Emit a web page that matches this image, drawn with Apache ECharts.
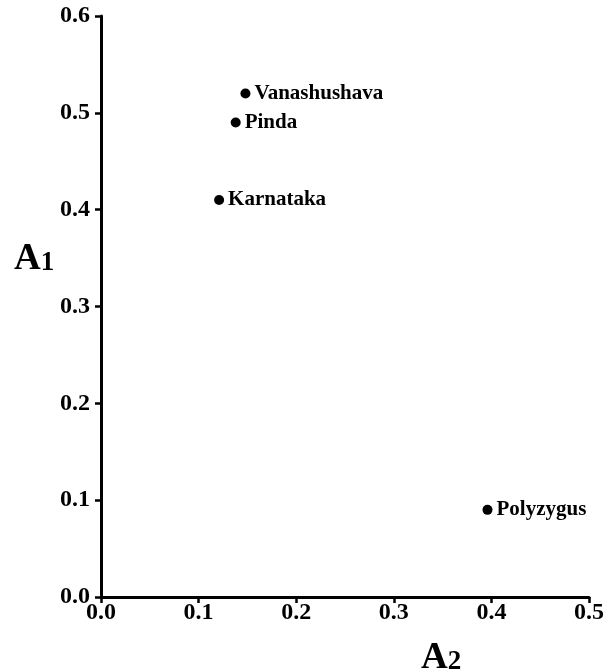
<!DOCTYPE html>
<html><head><meta charset="utf-8">
<script src="https://cdn.jsdelivr.net/npm/echarts@6/dist/echarts.min.js"></script>
<style>html,body{margin:0;padding:0;background:#fff}#c{width:609px;height:672px}</style>
</head><body><div id="c"></div>
<script>
const names = ['Vanashushava', 'Pinda', 'Karnataka', 'Polyzygus'];
const a2Values = [0.148, 0.138, 0.121, 0.396];
const a1Values = [0.520, 0.490, 0.410, 0.090];
const xTicks = [0.0, 0.1, 0.2, 0.3, 0.4, 0.5];
const yTicks = [0.0, 0.1, 0.2, 0.3, 0.4, 0.5, 0.6];

const font = '"Liberation Serif","Times New Roman",serif';
const chart = echarts.init(document.getElementById('c'));
chart.setOption({
  backgroundColor: '#fff',
  animation: false,
  grid: {left: 101, right: 20, top: 16, bottom: 75},
  xAxis: {
    type: 'value', min: xTicks[0], max: xTicks[xTicks.length - 1], interval: 0.1,
    splitLine: {show: false},
    axisLine: {show: true, lineStyle: {color: '#000', width: 3}},
    axisTick: {show: true, length: 6, lineStyle: {color: '#000', width: 2.5}},
    axisLabel: {color: '#000', fontFamily: font, fontWeight: 'bold', fontSize: 24, margin: 4,
      formatter: v => v.toFixed(1)}
  },
  yAxis: {
    type: 'value', min: yTicks[0], max: yTicks[yTicks.length - 1], interval: 0.1,
    splitLine: {show: false},
    axisLine: {show: true, lineStyle: {color: '#000', width: 3}},
    axisTick: {show: true, length: 6, lineStyle: {color: '#000', width: 2.5}},
    axisLabel: {color: '#000', fontFamily: font, fontWeight: 'bold', fontSize: 24, margin: 11,
      formatter: v => v.toFixed(1)}
  },
  graphic: [
    {type: 'text', left: 14, top: 241, style: {text: '{a|A}{n|1}', rich: {
      a: {fontFamily: font, fontWeight: 'bold', fontSize: 37, fill: '#000'},
      n: {fontFamily: font, fontWeight: 'bold', fontSize: 27, fill: '#000', padding: [7, 0, 0, 0]}}}},
    {type: 'text', left: 421, top: 640, style: {text: '{a|A}{n|2}', rich: {
      a: {fontFamily: font, fontWeight: 'bold', fontSize: 37, fill: '#000'},
      n: {fontFamily: font, fontWeight: 'bold', fontSize: 27, fill: '#000', padding: [7, 0, 0, 0]}}}}
  ],
  series: [{
    type: 'scatter',
    symbol: 'circle', symbolSize: 10,
    itemStyle: {color: '#000', opacity: 1},
    data: names.map((n, i) => ({name: n, value: [a2Values[i], a1Values[i]]})),
    label: {show: true, position: 'right', distance: 4, formatter: p => p.name,
      color: '#000', fontFamily: font, fontWeight: 'bold', fontSize: 21}
  }]
});
</script></body></html>
